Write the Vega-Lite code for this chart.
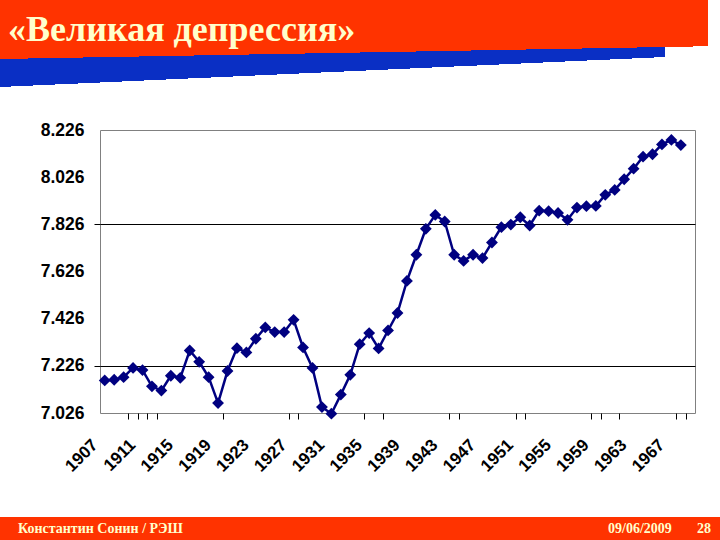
{
  "$schema": "https://vega.github.io/schema/vega-lite/v6.json",
  "padding": 0,
  "spacing": 0,
  "bounds": "flush",
  "columns": 4,
  "config": {
    "view": {"stroke": null},
    "title": {"font": "Liberation Serif", "fontWeight": "bold", "color": "#FFFFCC", "anchor": "start", "frame": "group", "orient": "top", "baseline": "alphabetic"}
  },
  "concat": [
    {
      "width": 100, "height": 130,
      "data": {"values": [{}]},
      "view": {"stroke": null, "fill": {"gradient": "linear", "x1": 0, "y1": 0, "x2": 0.03466, "y2": 0.9988,
        "stops": [{"offset": 0, "color": "#0a2fc4"}, {"offset": 0.66923, "color": "#0a2fc4"}, {"offset": 0.66923, "color": "rgba(255,255,255,0)"}, {"offset": 1, "color": "rgba(255,255,255,0)"}]}},
      "mark": {"type": "rect", "fill": {"gradient": "linear", "x1": 0, "y1": 0, "x2": 0.013878, "y2": 0.99981,
        "stops": [{"offset": 0, "color": "#ff3300"}, {"offset": 0.45385, "color": "#ff3300"}, {"offset": 0.45385, "color": "rgba(255,255,255,0)"}, {"offset": 1, "color": "rgba(255,255,255,0)"}]}},
      "encoding": {}
    },
    {
      "width": 595, "height": 130,
      "data": {"values": [{}]},
      "title": {"text": "«Великая депрессия»", "fontSize": 36, "offset": -49, "dx": -92},
      "view": {"stroke": null, "fill": {"gradient": "linear", "x1": 0, "y1": 0, "x2": 0.198036, "y2": 0.95911,
        "stops": [{"offset": 0, "color": "#0a2fc4"}, {"offset": 0.63453, "color": "#0a2fc4"}, {"offset": 0.63453, "color": "rgba(255,255,255,0)"}, {"offset": 1, "color": "rgba(255,255,255,0)"}]}},
      "layer": [
        {"mark": {"type": "rect", "fill": {"gradient": "linear", "x1": 0, "y1": 0, "x2": 1, "y2": 0,
          "stops": [{"offset": 0, "color": "rgba(255,255,255,0)"}, {"offset": 0.94958, "color": "rgba(255,255,255,0)"}, {"offset": 0.94958, "color": "#ffffff"}, {"offset": 1, "color": "#ffffff"}]}},
         "encoding": {}},
        {"mark": {"type": "rect", "fill": {"gradient": "linear", "x1": 0, "y1": 0, "x2": 0.082032, "y2": 0.993225,
          "stops": [{"offset": 0, "color": "#ff3300"}, {"offset": 0.43996, "color": "#ff3300"}, {"offset": 0.43996, "color": "rgba(255,255,255,0)"}, {"offset": 1, "color": "rgba(255,255,255,0)"}]}},
         "encoding": {}}
      ]
    },
    {
      "width": 1, "height": 130,
      "data": {"values": []},
      "view": {"stroke": null, "fill": {"gradient": "linear", "x1": 0, "y1": 0, "x2": 0, "y2": 1,
        "stops": [{"offset": 0, "color": "#ff3300"}, {"offset": 0.3574, "color": "#ff3300"}, {"offset": 0.3574, "color": "rgba(255,255,255,0)"}, {"offset": 1, "color": "rgba(255,255,255,0)"}]}},
      "mark": "point",
      "encoding": {}
    },
    {
      "width": 24, "height": 130,
      "data": {"values": [{}]},
      "view": {"stroke": null, "fill": {"gradient": "linear", "x1": 0, "y1": 0, "x2": 0, "y2": 1,
        "stops": [{"offset": 0, "color": "#ff3300"}, {"offset": 0.357, "color": "#ff3300"}, {"offset": 0.357, "color": "rgba(255,255,255,0)"}, {"offset": 1, "color": "rgba(255,255,255,0)"}]}},
      "mark": {"type": "rect", "fill": {"gradient": "linear", "x1": 0, "y1": 0, "x2": 1, "y2": 0,
        "stops": [{"offset": 0, "color": "rgba(255,255,255,0)"}, {"offset": 0.5, "color": "rgba(255,255,255,0)"}, {"offset": 0.5, "color": "#ffffff"}, {"offset": 1, "color": "#ffffff"}]}},
      "encoding": {}
    },
    {
      "width": 100, "height": 283,
      "data": {"values": []},
      "mark": "point",
      "encoding": {}
    },
    {
      "width": 595,
      "height": 283,
      "view": {"stroke": "#808080", "strokeWidth": 1},
      "data": {"values": [
        {"year": 1907, "value": 7.164}, {"year": 1908, "value": 7.167}, {"year": 1909, "value": 7.178},
        {"year": 1910, "value": 7.217}, {"year": 1911, "value": 7.208}, {"year": 1912, "value": 7.139},
        {"year": 1913, "value": 7.121}, {"year": 1914, "value": 7.184}, {"year": 1915, "value": 7.175},
        {"year": 1916, "value": 7.291}, {"year": 1917, "value": 7.243}, {"year": 1918, "value": 7.178},
        {"year": 1919, "value": 7.068}, {"year": 1920, "value": 7.204}, {"year": 1921, "value": 7.301},
        {"year": 1922, "value": 7.283}, {"year": 1923, "value": 7.341}, {"year": 1924, "value": 7.389},
        {"year": 1925, "value": 7.369}, {"year": 1926, "value": 7.369}, {"year": 1927, "value": 7.421},
        {"year": 1928, "value": 7.304}, {"year": 1929, "value": 7.217}, {"year": 1930, "value": 7.051},
        {"year": 1931, "value": 7.023}, {"year": 1932, "value": 7.104}, {"year": 1933, "value": 7.188},
        {"year": 1934, "value": 7.318}, {"year": 1935, "value": 7.365}, {"year": 1936, "value": 7.300},
        {"year": 1937, "value": 7.376}, {"year": 1938, "value": 7.450}, {"year": 1939, "value": 7.586},
        {"year": 1940, "value": 7.697}, {"year": 1941, "value": 7.807}, {"year": 1942, "value": 7.866},
        {"year": 1943, "value": 7.838}, {"year": 1944, "value": 7.697}, {"year": 1945, "value": 7.671},
        {"year": 1946, "value": 7.697}, {"year": 1947, "value": 7.683}, {"year": 1948, "value": 7.749},
        {"year": 1949, "value": 7.814}, {"year": 1950, "value": 7.825}, {"year": 1951, "value": 7.856},
        {"year": 1952, "value": 7.821}, {"year": 1953, "value": 7.884}, {"year": 1954, "value": 7.882},
        {"year": 1955, "value": 7.874}, {"year": 1956, "value": 7.845}, {"year": 1957, "value": 7.897},
        {"year": 1958, "value": 7.903}, {"year": 1959, "value": 7.904}, {"year": 1960, "value": 7.951},
        {"year": 1961, "value": 7.972}, {"year": 1962, "value": 8.017}, {"year": 1963, "value": 8.062},
        {"year": 1964, "value": 8.113}, {"year": 1965, "value": 8.123}, {"year": 1966, "value": 8.165},
        {"year": 1967, "value": 8.184}, {"year": 1968, "value": 8.162}
      ]},
      "encoding": {
        "x": {
          "field": "year", "type": "quantitative",
          "scale": {"domain": [1906.5, 1969.5], "nice": false, "zero": false},
          "axis": {
            "title": null, "grid": false, "domain": false,
            "values": [1907, 1911, 1915, 1919, 1923, 1927, 1931, 1935, 1939, 1943, 1947, 1951, 1955, 1959, 1963, 1967,
                       1909.5, 1910.5, 1911.5, 1912.5, 1919.5, 1926.5, 1927.5, 1934.5, 1936.5, 1943.5, 1944.5, 1950.5, 1951.5, 1958.5, 1959.5, 1961.5, 1967.5, 1968.5],
            "labelExpr": "datum.value % 1 === 0 ? datum.value : ''",
            "ticks": true, "tickSize": 6, "tickColor": "#000000",
            "tickOpacity": {"condition": {"test": "datum.value % 1 !== 0", "value": 1}, "value": 0},
            "labelFont": "Liberation Sans", "labelFontWeight": "bold", "labelFontSize": 17, "labelColor": "#000000",
            "labelAngle": -45, "labelAlign": "right", "labelBaseline": "middle",
            "labelPadding": 23, "labelOffset": -10, "labelOverlap": false, "labelFlush": false, "labelBound": false
          }
        },
        "y": {
          "field": "value", "type": "quantitative",
          "scale": {"domain": [7.026, 8.226], "nice": false, "zero": false},
          "axis": {
            "title": null, "domain": false, "grid": true, "gridColor": "#000000", "gridWidth": 1,
            "gridOpacity": {"condition": {"test": "abs(datum.value - 7.226) < 0.001 || abs(datum.value - 7.826) < 0.001", "value": 1}, "value": 0},
            "values": [7.026, 7.226, 7.426, 7.626, 7.826, 8.026, 8.226],
            "format": ".3f",
            "ticks": true, "tickSize": 6, "tickColor": "#000000",
            "tickOpacity": {"condition": {"test": "abs(datum.value - 7.226) < 0.001 || abs(datum.value - 7.826) < 0.001", "value": 1}, "value": 0},
            "labelFont": "Liberation Sans", "labelFontWeight": "bold", "labelFontSize": 17.5, "labelColor": "#000000",
            "labelPadding": 10, "labelOverlap": false, "labelFlush": false
          }
        }
      },
      "layer": [
        {"mark": {"type": "line", "color": "#000080", "strokeWidth": 2.5, "clip": false}},
        {"mark": {"type": "point", "shape": "diamond", "filled": true, "size": 140, "color": "#000080", "opacity": 1, "clip": false}}
      ]
    },
    {"width": 1, "height": 283, "data": {"values": []}, "mark": "point", "encoding": {}},
    {"width": 24, "height": 283, "data": {"values": []}, "mark": "point", "encoding": {}},
    {"width": 100, "height": 104, "data": {"values": []}, "mark": "point", "encoding": {}},
    {"width": 595, "height": 104, "data": {"values": []}, "mark": "point", "encoding": {}},
    {"width": 1, "height": 104, "data": {"values": []}, "mark": "point", "encoding": {}},
    {"width": 24, "height": 104, "data": {"values": []}, "mark": "point", "encoding": {}},
    {
      "width": 100, "height": 23,
      "data": {"values": []},
      "view": {"stroke": null, "fill": "#ff3300"},
      "mark": "point", "encoding": {}
    },
    {
      "width": 595, "height": 23,
      "data": {"values": []},
      "title": {"text": "Константин Сонин / РЭШ", "fontSize": 14, "offset": -19, "dx": -82},
      "view": {"stroke": null, "fill": "#ff3300"},
      "mark": "point", "encoding": {}
    },
    {
      "width": 1, "height": 23,
      "data": {"values": []},
      "title": {"text": "09/06/2009", "fontSize": 14, "offset": -19, "dx": -87},
      "view": {"stroke": null, "fill": "#ff3300"},
      "mark": "point", "encoding": {}
    },
    {
      "width": 24, "height": 23,
      "data": {"values": []},
      "title": {"text": "28", "fontSize": 14, "offset": -19, "dx": 1},
      "view": {"stroke": null, "fill": "#ff3300"},
      "mark": "point", "encoding": {}
    }
  ]
}
